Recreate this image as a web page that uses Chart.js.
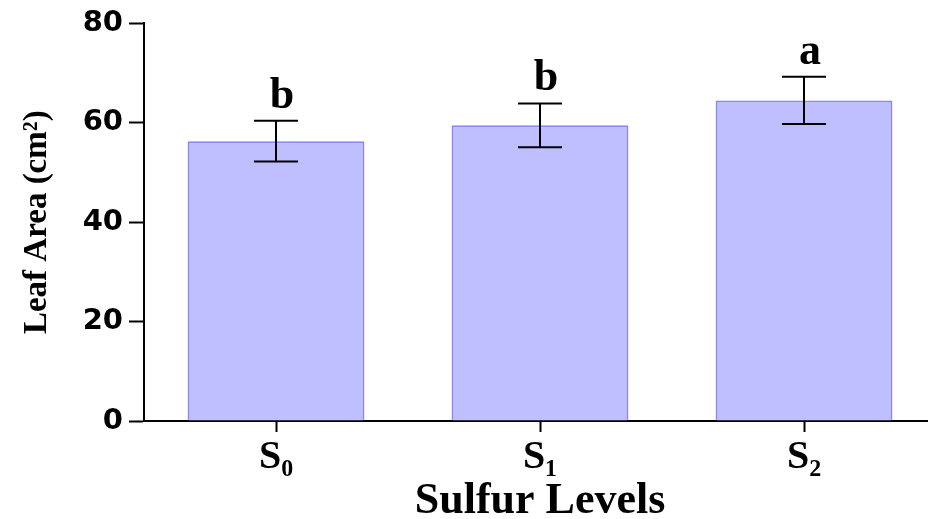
<!DOCTYPE html>
<html>
<head>
<meta charset="utf-8">
<script src="https://cdn.jsdelivr.net/npm/chart.js@4.4.1/dist/chart.umd.min.js"></script>
<style>
  html, body { margin: 0; padding: 0; background: #fff; overflow: hidden; }
  #wrap { width: 940px; height: 519px; }
</style>
</head>
<body>
<div id="wrap"><canvas id="c" width="940" height="519"></canvas></div>
<script>
// ---- data ----
const categories = ['S\u2080', 'S\u2081', 'S\u2082'];
const leafArea = [56.3, 59.5, 64.5];
const errors = [4.1, 4.4, 4.75];
const sigLetters = ['b', 'b', 'a'];
const yTicks = [0, 20, 40, 60, 80];

const errorBarPlugin = {
  id: 'errorBars',
  afterDatasetsDraw(chart) {
    const ctx = chart.ctx;
    const meta = chart.getDatasetMeta(0);
    const y = chart.scales.y;
    ctx.save();
    meta.data.forEach((bar, i) => {
      const x = bar.x;
      const top = y.getPixelForValue(leafArea[i] + errors[i]);
      const bot = y.getPixelForValue(leafArea[i] - errors[i]);
      const half = 22;
      ctx.strokeStyle = '#000';
      ctx.lineWidth = 2;
      ctx.beginPath();
      ctx.moveTo(x, top); ctx.lineTo(x, bot);
      ctx.moveTo(x - half, top); ctx.lineTo(x + half, top);
      ctx.moveTo(x - half, bot); ctx.lineTo(x + half, bot);
      ctx.stroke();
      ctx.fillStyle = '#000';
      ctx.font = 'bold 44px "Liberation Serif", "Times New Roman", serif';
      ctx.textAlign = 'center';
      ctx.textBaseline = 'alphabetic';
      ctx.fillText(sigLetters[i], x + 6, top - 13);
    });
    ctx.restore();
  }
};

new Chart(document.getElementById('c'), {
  type: 'bar',
  data: {
    labels: categories,
    datasets: [{
      data: leafArea,
      backgroundColor: 'rgb(191,191,255)',
      borderColor: 'rgb(136,136,250)',
      borderWidth: 2,
      borderSkipped: 'bottom',
      categoryPercentage: 1.0,
      barPercentage: 0.67
    }]
  },
  options: {
    responsive: false,
    animation: false,
    events: [],
    layout: { padding: { top: 21, right: 4, left: 0, bottom: 0 } },
    plugins: { legend: { display: false }, tooltip: { enabled: false } },
    scales: {
      x: {
        grid: { display: true, drawOnChartArea: false, drawTicks: true, tickLength: 11, tickWidth: 2, tickColor: '#000', offset: false },
        border: { display: true, color: '#000', width: 2 },
        ticks: {
          color: '#000',
          padding: 2,
          font: { family: '"Liberation Serif", "DejaVu Serif", serif', weight: 'bold', size: 40 }
        },
        title: {
          display: true,
          text: 'Sulfur Levels',
          color: '#000',
          padding: { top: 0, bottom: -9 },
          font: { family: '"Liberation Serif", "Times New Roman", serif', weight: 'bold', size: 44 }
        },
        afterFit(s) { s.height = 98; }
      },
      y: {
        min: 0, max: 80,
        afterBuildTicks(s) { s.ticks = yTicks.map(v => ({ value: v })); },
        grid: { display: true, drawOnChartArea: false, drawTicks: true, tickLength: 15, tickWidth: 2, tickColor: '#000' },
        border: { display: true, color: '#000', width: 2 },
        ticks: {
          color: '#000',
          padding: 6,
          font: { family: '"DejaVu Sans", sans-serif', weight: 'bold', size: 29 }
        },
        title: {
          display: true,
          text: 'Leaf Area (cm\u00B2)',
          color: '#000',
          padding: { top: 18, bottom: 0 },
          font: { family: '"Liberation Serif", "Times New Roman", serif', weight: 'bold', size: 33 }
        },
        afterFit(s) { s.width = 144; }
      }
    }
  },
  plugins: [errorBarPlugin]
});
</script>
</body>
</html>
